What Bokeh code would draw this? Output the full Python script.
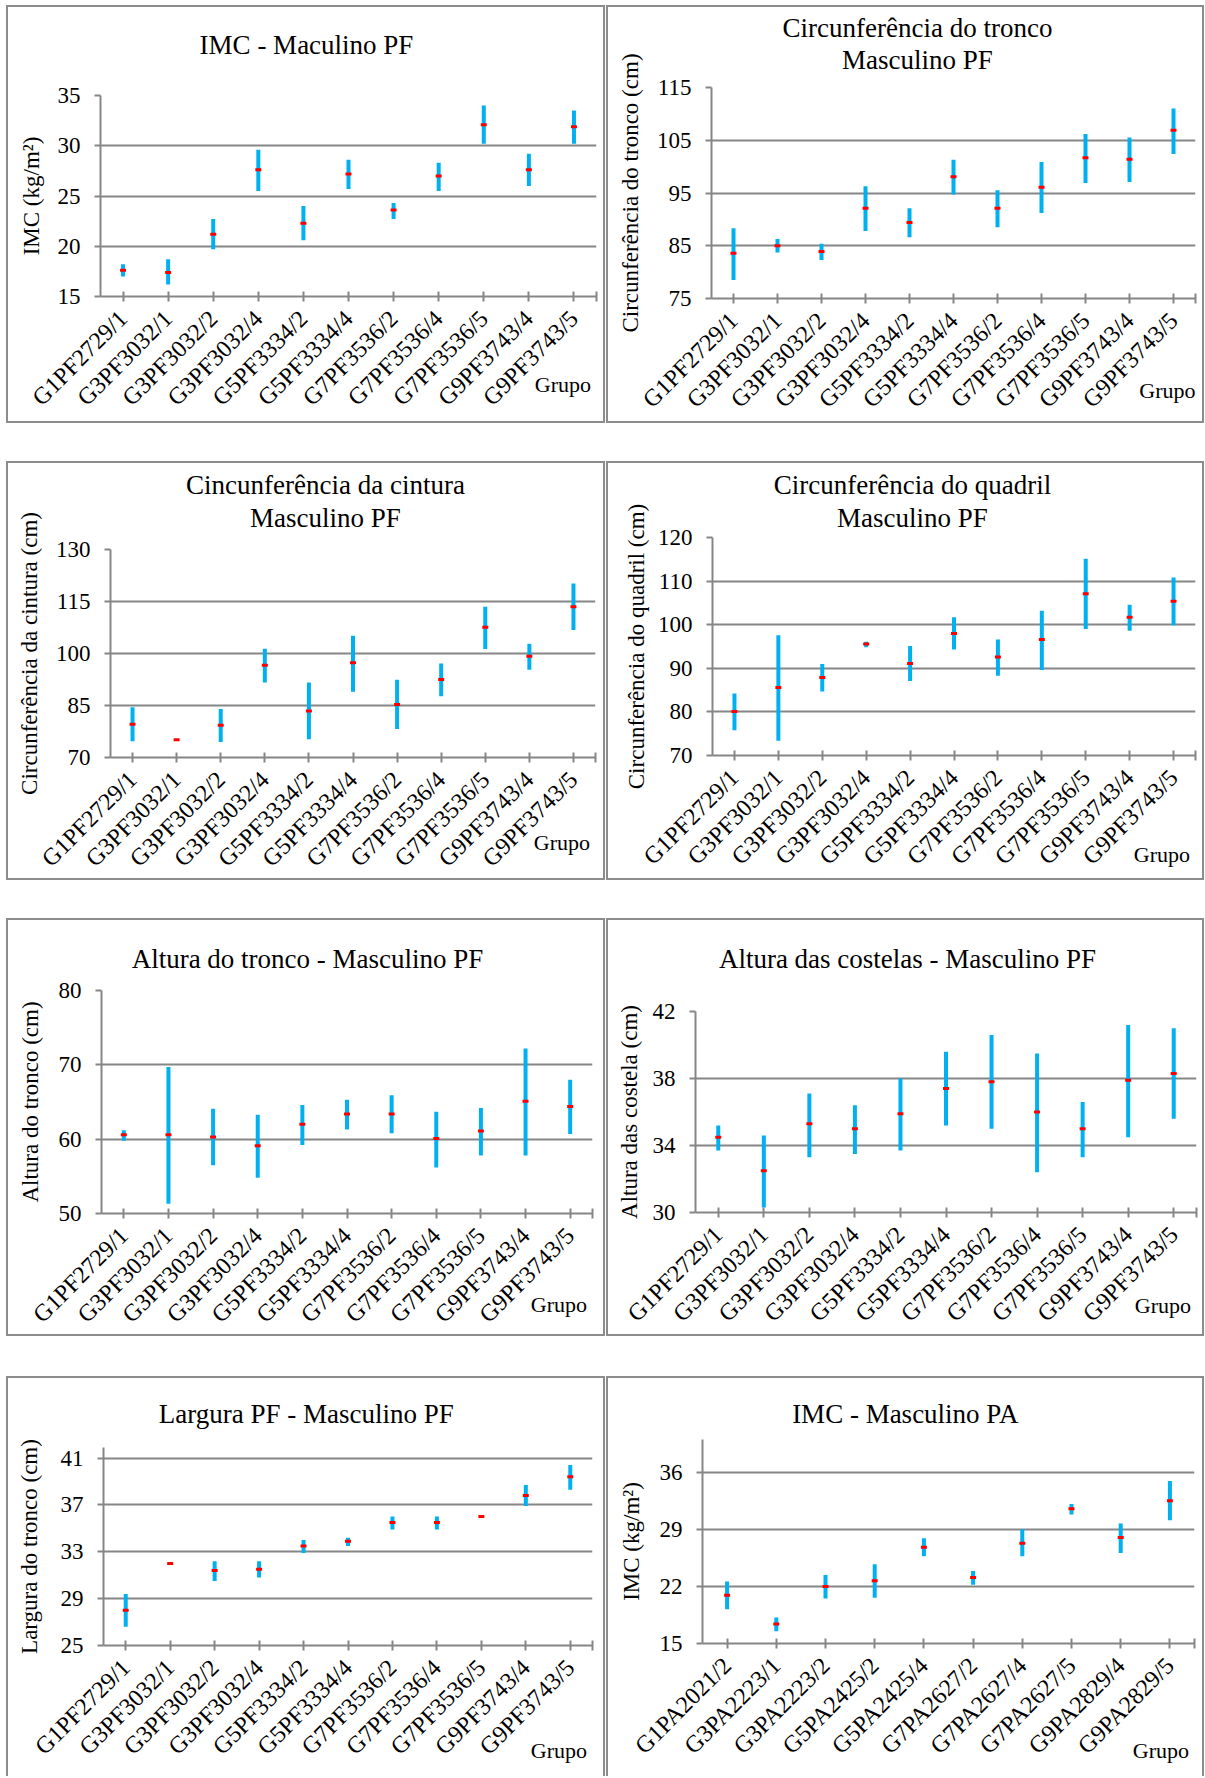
from math import pi

from bokeh.embed import file_html
from bokeh.models import FixedTicker, Range1d, Title
from bokeh.plotting import figure
from bokeh.resources import INLINE

# ---------------------------------------------------------------- data
groups_pf = ["G1PF2729/1", "G3PF3032/1", "G3PF3032/2", "G3PF3032/4", "G5PF3334/2",
             "G5PF3334/4", "G7PF3536/2", "G7PF3536/4", "G7PF3536/5", "G9PF3743/4",
             "G9PF3743/5"]
groups_pa = ["G1PA2021/2", "G3PA2223/1", "G3PA2223/2", "G5PA2425/2", "G5PA2425/4",
             "G7PA2627/2", "G7PA2627/4", "G7PA2627/5", "G9PA2829/4", "G9PA2829/5"]

imc_pf_mean = [17.6, 17.4, 21.2, 27.6, 22.3, 27.2, 23.6, 27.0, 32.1, 27.6, 31.9]
imc_pf_low = [17.0, 16.2, 19.7, 25.5, 20.6, 25.7, 22.7, 25.5, 30.2, 26.0, 30.2]
imc_pf_high = [18.2, 18.7, 22.7, 29.6, 24.0, 28.6, 24.3, 28.3, 34.0, 29.2, 33.5]

tronco_mean = [83.6, 85.0, 83.9, 92.1, 89.4, 98.1, 92.1, 96.1, 101.7, 101.4, 106.9]
tronco_low = [78.5, 83.7, 82.3, 87.8, 86.6, 94.7, 88.5, 91.2, 96.9, 97.1, 102.4]
tronco_high = [88.3, 86.3, 85.4, 96.3, 92.1, 101.3, 95.5, 100.9, 106.2, 105.5, 111.0]

cintura_mean = [79.6, 75.1, 79.3, 96.6, 83.4, 97.3, 85.3, 92.5, 107.6, 99.2, 113.5]
cintura_low = [74.7, 75.1, 74.5, 91.6, 75.3, 89.0, 78.2, 87.7, 101.3, 95.3, 106.8]
cintura_high = [84.5, 75.1, 84.0, 101.4, 91.6, 105.1, 92.4, 97.1, 113.5, 102.8, 120.2]

quadril_mean = [80.1, 85.6, 87.9, 95.6, 91.1, 98.0, 92.6, 96.6, 107.1, 101.7, 105.4]
quadril_low = [75.8, 73.4, 84.7, 94.8, 87.1, 94.3, 88.3, 89.6, 99.0, 98.6, 99.9]
quadril_high = [84.2, 97.6, 91.0, 96.1, 95.1, 101.7, 96.6, 103.2, 115.1, 104.6, 110.8]

alt_tronco_mean = [60.6, 60.6, 60.3, 59.1, 62.0, 63.4, 63.4, 60.1, 61.1, 65.1, 64.4]
alt_tronco_low = [59.8, 51.3, 56.5, 54.8, 59.2, 61.3, 60.8, 56.2, 57.8, 57.8, 60.7]
alt_tronco_high = [61.2, 69.7, 64.1, 63.3, 64.6, 65.3, 65.9, 63.7, 64.2, 72.2, 68.0]

costelas_mean = [34.5, 32.5, 35.3, 35.0, 35.9, 37.4, 37.8, 36.0, 35.0, 37.9, 38.3]
costelas_low = [33.7, 30.3, 33.3, 33.5, 33.7, 35.2, 35.0, 32.4, 33.3, 34.5, 35.6]
costelas_high = [35.2, 34.6, 37.1, 36.4, 38.0, 39.6, 40.6, 39.5, 36.6, 41.2, 41.0]

largura_mean = [28.0, 32.0, 31.4, 31.5, 33.5, 33.9, 35.5, 35.5, 36.0, 37.8, 39.4]
largura_low = [26.6, 32.0, 30.5, 30.8, 32.9, 33.5, 34.9, 34.9, 36.0, 36.9, 38.3]
largura_high = [29.4, 32.0, 32.2, 32.2, 34.0, 34.2, 36.0, 36.0, 36.0, 38.7, 40.4]

imc_pa_mean = [20.9, 17.4, 22.0, 22.7, 26.8, 23.1, 27.3, 31.5, 28.0, 32.5]
imc_pa_low = [19.2, 16.5, 20.5, 20.6, 25.7, 22.2, 25.7, 30.8, 26.1, 30.1]
imc_pa_high = [22.6, 18.2, 23.4, 24.7, 27.9, 23.9, 29.0, 32.1, 29.7, 34.9]

# ---------------------------------------------------------------- style
FONT = "Liberation Serif"
GRAY = "#868686"
BLUE = "#00B0F0"
RED = "#FF0000"
BORDER_W = 2
BORDER = f"{BORDER_W}px solid #8c8c8c"

TITLE_PX = 27
YLAB_PX = 23
GRUPO_PX = 22
XTICK_PX = 24
YTICK_PX = 23
ASCENT = 0.891   # serif face metrics, in em
DESCENT = 0.216
NBSP = "\u00a0"

# advance widths of the serif face (1/1000 em), used to place texts
ADVANCE = {" ": 250, NBSP: 250, "-": 333, "(": 333, ")": 333, "/": 278, "²": 300,
           "A": 722, "C": 667, "F": 556, "G": 722, "I": 333, "L": 611,
           "M": 889, "P": 556, "a": 444, "c": 444, "d": 500, "e": 444,
           "ê": 444, "f": 333, "g": 500, "i": 278, "k": 500, "l": 278,
           "m": 778, "n": 500, "o": 500, "p": 500, "q": 500, "r": 333,
           "s": 389, "t": 278, "u": 500}


def text_width(s, px):
    return sum(ADVANCE.get(ch, 500) for ch in s) / 1000.0 * px


def spacer(size):
    # an empty title used only to reserve vertical room in the top panel
    h = (ASCENT + DESCENT) * 10
    return Title(text=" ", text_font_size="10px", standoff=size - 2 - h)


def add_titles(p, lines, baselines, centre_x, top, left):
    h = (ASCENT + DESCENT) * TITLE_PX
    d = DESCENT * TITLE_PX
    far = max(0.0, baselines[0] + d - 2 - h)
    pos = far
    made = []
    for text, base in zip(lines, baselines):
        s = 2 * (base + d - pos - 2 - h)
        made.append(Title(text=text, align="left",
                          offset=centre_x - text_width(text, TITLE_PX) / 2 - left,
                          standoff=s, text_font=FONT,
                          text_font_size=f"{TITLE_PX}px",
                          text_font_style="normal", text_color="black"))
        pos += 2 + h + s
    p.add_layout(spacer(top - pos), "above")
    for t in reversed(made):
        p.add_layout(t, "above")
    if far > 0:
        p.add_layout(spacer(far), "above")


def place_axis_label(ax, gap, label_extent):
    # gap: wanted distance between the axis line and the label anchor
    try:
        ax.axis_label_standoff_mode = "axis"
        ax.axis_label_standoff = int(round(gap))
    except ValueError:
        ax.axis_label_standoff = int(round(gap - label_extent))


def grupo_label(xa, frame_w, overhang, top_gap, rot_extent):
    """Write "Grupo" at the right end of the category axis.

    overhang: how far the word ends past the end of the axis
    top_gap:  distance from the axis line down to the top of the word
    """
    nb = text_width(NBSP, GRUPO_PX)
    h = (ASCENT + DESCENT) * GRUPO_PX
    xa.axis_label_text_font_size = f"{GRUPO_PX}px"
    try:
        # an (almost) zero numeric orientation anchors the label by its right end
        xa.axis_label_orientation = 1e-6
        xa.axis_label = "Grupo" + NBSP * max(0, round(overhang / nb))
        xa.axis_label_align = "end"
        place_axis_label(xa, top_gap + h / 2, rot_extent)
    except ValueError:
        pad = round((frame_w + 2 * overhang - text_width("Grupo", GRUPO_PX)) / nb)
        xa.axis_label = NBSP * pad + "Grupo"
        xa.axis_label_align = "center"
        place_axis_label(xa, top_gap, rot_extent)


def panel(groups, mean, low, high, y_range, y_ticks, title_lines, y_title,
          corner, size, borders, title_xy, ylab_x, grupo_xy, open_bottom=False):
    cw, ch = size                      # drawing area inside the frame border
    left, right, top, bottom = borders
    n = len(groups)
    xs = [i + 0.5 for i in range(n)]

    styles = {"position": "absolute", "left": f"{corner[0]}px", "top": f"{corner[1]}px",
              "border": BORDER}
    if open_bottom:
        styles["border-bottom"] = "none"
    p = figure(width=cw + 2 * BORDER_W,
               height=ch + (BORDER_W if open_bottom else 2 * BORDER_W),
               x_range=Range1d(0, n), y_range=Range1d(*y_range),
               output_backend="svg", toolbar_location=None,
               min_border_left=left, min_border_right=right,
               min_border_top=top, min_border_bottom=bottom,
               background_fill_color="white", border_fill_color="white")
    p.outline_line_color = None
    p.styles = styles

    # category axis: a tick under each group plus one closing the axis
    overrides = {x: g for x, g in zip(xs, groups)}
    overrides[n] = ""
    xa = p.xaxis[0]
    xa.ticker = FixedTicker(ticks=xs + [n])
    xa.major_label_overrides = overrides
    xa.major_label_orientation = pi / 4
    xa.major_label_standoff = 13
    xa.major_label_text_font_size = f"{XTICK_PX}px"
    xa.major_tick_in = 5
    xa.major_tick_out = 5
    xa.minor_tick_line_color = None

    frame_w = cw - left - right
    rot = (text_width(groups[0], XTICK_PX) + (ASCENT + DESCENT) * XTICK_PX) * 0.707
    grupo_label(xa, frame_w, grupo_xy[0] - (cw - right),
                grupo_xy[1] - (ch - bottom) - ASCENT * GRUPO_PX, 5 + 13 + rot)

    ya = p.yaxis[0]
    ya.ticker = FixedTicker(ticks=y_ticks)
    ya.major_label_standoff = 14
    ya.major_label_text_font_size = f"{YTICK_PX}px"
    ya.major_tick_in = 0
    ya.major_tick_out = 6
    ya.minor_tick_line_color = None
    ya.axis_label = y_title
    widest = max(text_width(str(t), YTICK_PX) for t in y_ticks)
    place_axis_label(ya, left - ylab_x - (ASCENT + DESCENT) * YLAB_PX / 2, 6 + 14 + widest)
    ya.axis_label_text_font_size = f"{YLAB_PX}px"

    for ax in (xa, ya):
        ax.axis_line_color = GRAY
        ax.axis_line_width = 2
        ax.major_tick_line_color = GRAY
        ax.major_tick_line_width = 2
        ax.major_label_text_font = FONT
        ax.major_label_text_color = "black"
        ax.axis_label_text_font = FONT
        ax.axis_label_text_font_style = "normal"
        ax.axis_label_text_color = "black"

    p.xgrid.visible = False
    p.ygrid.grid_line_color = GRAY
    p.ygrid.grid_line_width = 2

    # range bars and mean marks
    p.segment(x0=xs, y0=low, x1=xs, y1=high, line_color=BLUE, line_width=4)
    p.rect(x=xs, y=mean, width=6, height=3, width_units="screen",
           height_units="screen", fill_color=RED, line_color=None)

    add_titles(p, title_lines, title_xy[1], title_xy[0], top, left)
    return p


LEFT_X, RIGHT_X = 6, 606
ROW_Y = [5, 461, 918, 1376]

panels = [
    panel(groups_pf, imc_pf_mean, imc_pf_low, imc_pf_high, (15, 35),
          [15, 20, 25, 30, 35], ["IMC - Maculino PF"], "IMC (kg/m²)",
          (LEFT_X, ROW_Y[0]), (595, 414), (92, 11, 88, 129), (298, [46]), 22, (588, 380)),
    panel(groups_pf, tronco_mean, tronco_low, tronco_high, (75, 115),
          [75, 85, 95, 105, 115], ["Circunferência do tronco", "Masculino PF"],
          "Circunferência do tronco (cm)",
          (RIGHT_X, ROW_Y[0]), (594, 414), (103, 11, 80, 127), (309, [29, 62]), 21, (582, 386)),
    panel(groups_pf, cintura_mean, cintura_low, cintura_high, (70, 130),
          [70, 85, 100, 115, 130], ["Cincunferência da cintura", "Masculino PF"],
          "Circunferência da cintura (cm)",
          (LEFT_X, ROW_Y[1]), (595, 415), (102, 12, 86, 125), (317, [30, 64]), 20, (588, 382)),
    panel(groups_pf, quadril_mean, quadril_low, quadril_high, (70, 120),
          [70, 80, 90, 100, 110, 120], ["Circunferência do quadril", "Masculino PF"],
          "Circunferência do quadril (cm)",
          (RIGHT_X, ROW_Y[1]), (594, 415), (104, 11, 74, 127), (304, [30, 64]), 27, (588, 394)),
    panel(groups_pf, alt_tronco_mean, alt_tronco_low, alt_tronco_high, (50, 80),
          [50, 60, 70, 80], ["Altura do tronco - Masculino PF"], "Altura do tronco (cm)",
          (LEFT_X, ROW_Y[2]), (595, 414), (93, 15, 70, 125), (299, [47]), 21, (588, 387)),
    panel(groups_pf, costelas_mean, costelas_low, costelas_high, (30, 42),
          [30, 34, 38, 42], ["Altura das costelas - Masculino PF"],
          "Altura das costela (cm)",
          (RIGHT_X, ROW_Y[2]), (594, 414), (87, 10, 91, 126), (299, [47]), 20, (588, 388)),
    panel(groups_pf, largura_mean, largura_low, largura_high, (25, 41.9),
          [25, 29, 33, 37, 41], ["Largura PF - Masculino PF"], "Largura do tronco (cm)",
          (LEFT_X, ROW_Y[3]), (595, 398), (95, 15, 69, 131), (298, [44]), 20, (588, 379),
          open_bottom=True),
    panel(groups_pa, imc_pa_mean, imc_pa_low, imc_pa_high, (15, 40),
          [15, 22, 29, 36], ["IMC - Masculino PA"], "IMC (kg/m²)",
          (RIGHT_X, ROW_Y[3]), (594, 398), (94, 12, 61, 126), (298, [44]), 22, (588, 386),
          open_bottom=True),
]

open("out.html", "w").write(file_html(panels, INLINE))
